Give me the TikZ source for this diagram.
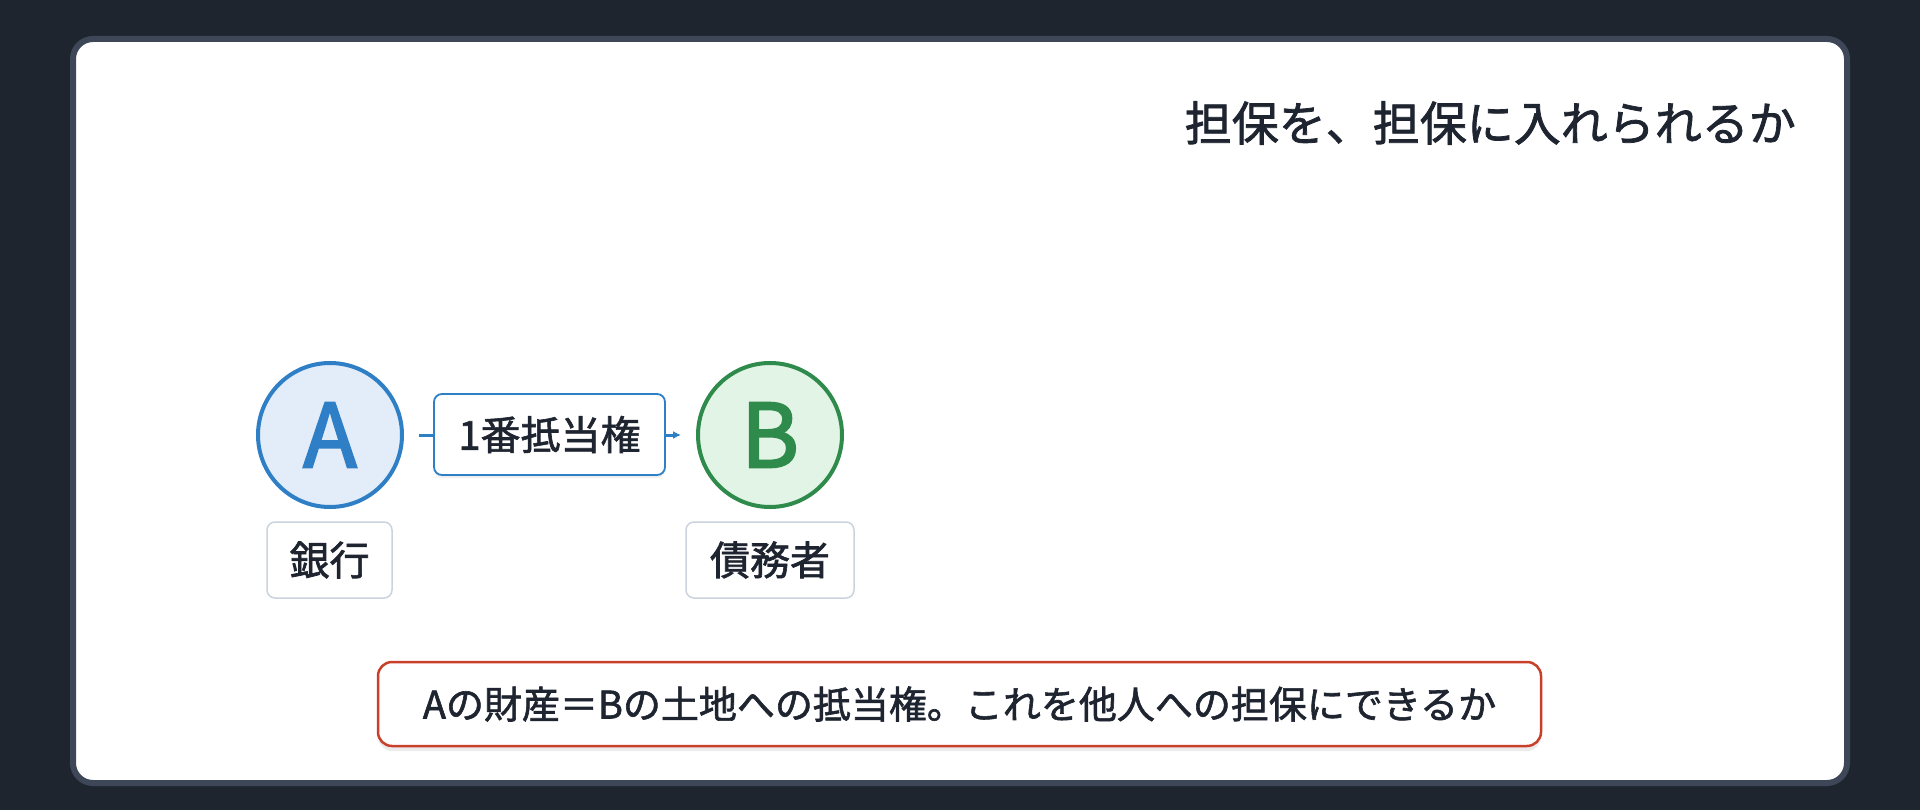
\documentclass[tikz,border=0pt]{standalone}
\usepackage{fontspec}
\newfontfamily\jp[FakeBold=1.6]{Noto Sans CJK JP}
\newfontfamily\jpb[FakeBold=2.5]{Noto Sans CJK JP}
\usetikzlibrary{shadows,arrows.meta}
\definecolor{bgdark}{HTML}{1E252F}
\definecolor{cardedge}{HTML}{3D4757}
\definecolor{txt}{HTML}{1F2530}
\definecolor{ablue}{HTML}{2F7FC6}
\definecolor{afill}{HTML}{E3EDF9}
\definecolor{bgreen}{HTML}{2E8B4C}
\definecolor{bfill}{HTML}{E2F4E6}
\definecolor{namegray}{HTML}{CBD3DE}
\definecolor{redbox}{HTML}{C8402A}
\tikzset{
  party/.style={circle, inner sep=0pt, minimum size=144pt, line width=4pt, font=\jpb\fontsize{88}{88}\selectfont},
  namebox/.style={draw=namegray, line width=1.5pt, rounded corners=8pt, fill=white, text=txt, inner sep=0pt, minimum height=76pt, font=\jp\fontsize{40}{40}\selectfont},
  rightbox/.style={draw=ablue, line width=1.8pt, rounded corners=8pt, fill=white, text=txt, inner sep=0pt, minimum width=231pt, minimum height=81pt, font=\jp\fontsize{40}{40}\selectfont, drop shadow={opacity=0.12, shadow xshift=0pt, shadow yshift=-3pt}},
  notebox/.style={draw=redbox, line width=2.5pt, rounded corners=14pt, fill=white, text=txt, inner sep=0pt, minimum width=1163pt, minimum height=84pt, font=\jp\fontsize{38}{38}\selectfont, drop shadow={opacity=0.15, shadow xshift=0pt, shadow yshift=-5pt}},
  conn/.style={draw=ablue, line width=3pt, -{Latex[length=8pt,width=8pt]}}
}
\begin{document}
\begin{tikzpicture}[x=1pt,y=-1pt]
\useasboundingbox (0,0) rectangle (1920,810);
\fill[bgdark] (0,0) rectangle (1920,810);
\draw[cardedge, line width=6pt, fill=white, rounded corners=20pt] (73,39) rectangle (1847,783);

\node[anchor=east, inner sep=0pt, text=txt, font=\jp\fontsize{47}{47}\selectfont] (title) at (1796,123) {担保を、担保に入れられるか};

\node[party, draw=ablue, fill=afill, text=ablue] (A) at (330,435) {A};
\node[party, draw=bgreen, fill=bfill, text=bgreen] (B) at (770,435) {B};

\draw[conn] ([xshift=15pt]A.east) -- ([xshift=-15pt]B.west);
\node[rightbox] (R) at (549.5,434.5) {1番抵当権};

\node[namebox, minimum width=125pt] (An) at (329.5,560) {銀行};
\node[namebox, minimum width=168pt] (Bn) at (770,560) {債務者};

\node[notebox] (note) at (959.5,704) {Aの財産＝Bの土地への抵当権。これを他人への担保にできるか};
\end{tikzpicture}
\end{document}
